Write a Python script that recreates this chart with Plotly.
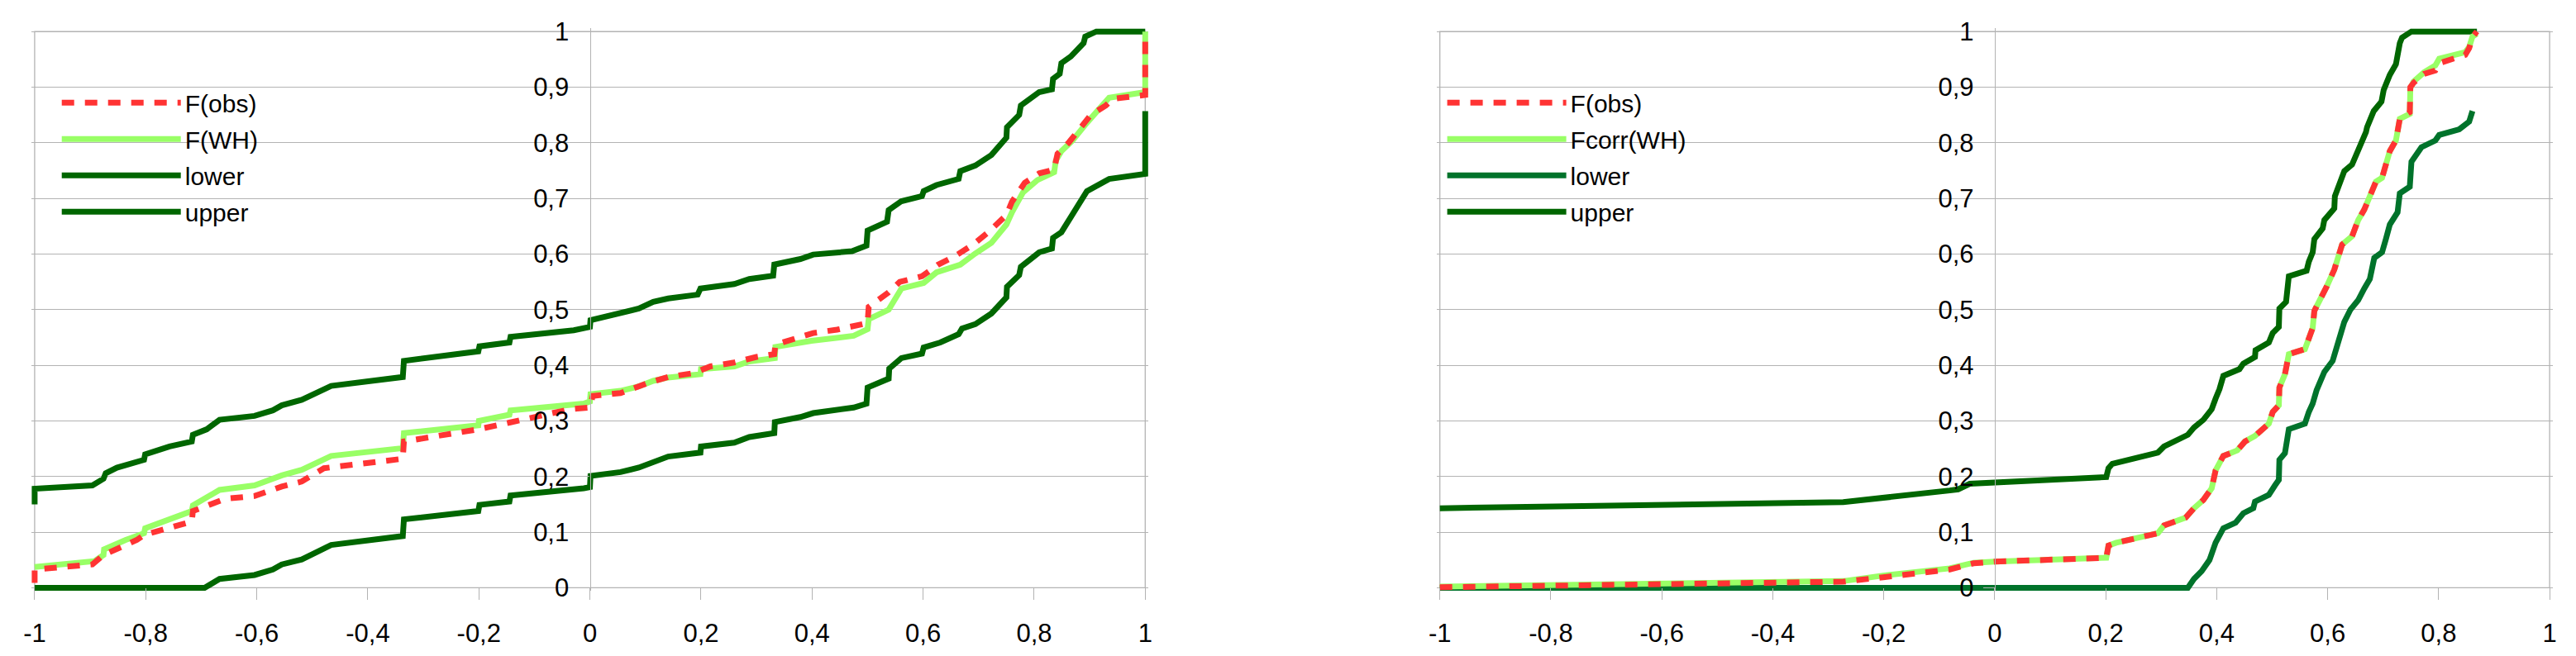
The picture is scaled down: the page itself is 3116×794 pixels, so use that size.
import plotly.graph_objects as go

# ---- left panel: F(obs), F(WH) and the band ----
l_obs_x = [-1, -1, -0.896, -0.876, -0.816, -0.803, -0.717, -0.715, -0.657, -0.604, -0.555, -0.519, -0.479,
           -0.337, -0.335, -0.201, -0.145, -0.036, 0, 0.005, 0.055, 0.101, 0.141, 0.187, 0.217, 0.26, 0.3,
           0.332, 0.334, 0.36, 0.402, 0.445, 0.485, 0.5, 0.502, 0.538, 0.558, 0.598, 0.627, 0.657, 0.69,
           0.717, 0.75, 0.76, 0.783, 0.809, 0.836, 0.842, 0.862, 0.882, 0.902, 0.929, 0.942, 1.0, 1.0]
l_obs_y = [0.009, 0.033, 0.042, 0.059, 0.086, 0.095, 0.119, 0.138, 0.160, 0.165, 0.182, 0.191, 0.215,
           0.232, 0.263, 0.285, 0.297, 0.321, 0.324, 0.345, 0.35, 0.367, 0.379, 0.386, 0.398, 0.405, 0.415,
           0.42, 0.437, 0.446, 0.458, 0.464, 0.471, 0.476, 0.505, 0.531, 0.55, 0.56, 0.581, 0.596, 0.617,
           0.639, 0.67, 0.694, 0.728, 0.745, 0.752, 0.78, 0.8, 0.824, 0.85, 0.867, 0.879, 0.886, 1.0]

l_wh_x = [-1, -0.892, -0.876, -0.875, -0.836, -0.803, -0.801, -0.757, -0.717, -0.715, -0.667, -0.604,
          -0.555, -0.519, -0.466, -0.337, -0.335, -0.201, -0.2, -0.145, -0.143, -0.011, 0, 0.001, 0.055,
          0.088, 0.114, 0.141, 0.199, 0.2, 0.26, 0.287, 0.333, 0.334, 0.399, 0.475, 0.5, 0.502, 0.538,
          0.561, 0.601, 0.624, 0.667, 0.694, 0.723, 0.75, 0.76, 0.78, 0.806, 0.836, 0.839, 0.849, 0.869,
          0.895, 0.909, 0.935, 1.0, 1.0]
l_wh_y = [0.0375, 0.048, 0.059, 0.069, 0.086, 0.098, 0.107, 0.123, 0.138, 0.148, 0.176, 0.184, 0.202,
          0.212, 0.237, 0.251, 0.278, 0.292, 0.30, 0.311, 0.319, 0.331, 0.335, 0.348, 0.354, 0.362, 0.372,
          0.378, 0.384, 0.393, 0.398, 0.407, 0.413, 0.433, 0.444, 0.453, 0.465, 0.483, 0.5, 0.538, 0.548,
          0.567, 0.581, 0.601, 0.62, 0.653, 0.675, 0.711, 0.733, 0.747, 0.768, 0.785, 0.804, 0.836, 0.852,
          0.881, 0.891, 1.0]

l_low_x = [-1, -0.694, -0.667, -0.604, -0.571, -0.555, -0.519, -0.466, -0.337, -0.335, -0.201, -0.199,
           -0.145, -0.143, -0.011, 0, 0.001, 0.055, 0.088, 0.114, 0.141, 0.199, 0.2, 0.26, 0.287, 0.332,
           0.333, 0.379, 0.402, 0.475, 0.498, 0.5, 0.538, 0.539, 0.561, 0.598, 0.601, 0.631, 0.664, 0.67,
           0.694, 0.723, 0.75, 0.751, 0.773, 0.776, 0.809, 0.832, 0.834, 0.849, 0.866, 0.892, 0.895, 0.935,
           1.0, 1.0]
l_low_y = [0, 0, 0.016, 0.023, 0.033, 0.042, 0.051, 0.077, 0.093, 0.123, 0.138, 0.149, 0.155, 0.166,
           0.179, 0.181, 0.201, 0.208, 0.216, 0.227, 0.236, 0.243, 0.254, 0.261, 0.271, 0.278, 0.298, 0.307,
           0.314, 0.324, 0.331, 0.36, 0.376, 0.394, 0.413, 0.421, 0.432, 0.441, 0.456, 0.466, 0.474, 0.493,
           0.522, 0.541, 0.562, 0.577, 0.603, 0.61, 0.629, 0.639, 0.665, 0.704, 0.713, 0.735, 0.744, 0.857]

l_up_x = [-1, -1, -0.896, -0.876, -0.872, -0.852, -0.803, -0.801, -0.757, -0.717, -0.715, -0.69, -0.667,
          -0.604, -0.571, -0.555, -0.519, -0.466, -0.337, -0.335, -0.201, -0.199, -0.145, -0.143, -0.029,
          0, 0.001, 0.055, 0.088, 0.114, 0.141, 0.194, 0.199, 0.26, 0.287, 0.33, 0.332, 0.379, 0.402,
          0.472, 0.498, 0.5, 0.535, 0.538, 0.561, 0.598, 0.601, 0.624, 0.664, 0.667, 0.694, 0.723, 0.75,
          0.751, 0.773, 0.776, 0.809, 0.832, 0.834, 0.846, 0.849, 0.866, 0.889, 0.892, 0.912, 1.0]
l_up_y = [0.150, 0.178, 0.184, 0.196, 0.206, 0.216, 0.230, 0.240, 0.254, 0.263, 0.275, 0.285, 0.302,
          0.309, 0.319, 0.328, 0.338, 0.363, 0.379, 0.408, 0.425, 0.434, 0.441, 0.451, 0.463, 0.469, 0.481,
          0.493, 0.502, 0.514, 0.520, 0.527, 0.538, 0.546, 0.555, 0.561, 0.581, 0.591, 0.599, 0.605, 0.615,
          0.642, 0.658, 0.679, 0.695, 0.704, 0.713, 0.724, 0.735, 0.749, 0.759, 0.778, 0.809, 0.828, 0.850,
          0.867, 0.891, 0.896, 0.915, 0.924, 0.943, 0.955, 0.979, 0.991, 1.0, 1.0]

# ---- right panel: F(obs), Fcorr(WH) and the band ----
r_f_x = [-1, -0.633, -0.273, -0.201, -0.081, -0.038, 0, 0.201, 0.205, 0.219, 0.294, 0.305, 0.344, 0.359,
         0.376, 0.391, 0.398, 0.412, 0.437, 0.451, 0.469, 0.494, 0.501, 0.512, 0.513, 0.523, 0.53, 0.559,
         0.566, 0.573, 0.576, 0.591, 0.598, 0.612, 0.626, 0.644, 0.655, 0.666, 0.673, 0.68, 0.687, 0.698,
         0.705, 0.712, 0.723, 0.73, 0.748, 0.749, 0.755, 0.774, 0.794, 0.801, 0.848, 0.855, 0.861, 0.869]
r_obs_y = [0.001, 0.005, 0.011, 0.019, 0.033, 0.044, 0.047, 0.054, 0.076, 0.081, 0.098, 0.112, 0.126,
           0.143, 0.158, 0.179, 0.211, 0.237, 0.247, 0.263, 0.273, 0.295, 0.316, 0.328, 0.360, 0.384, 0.420,
           0.429, 0.449, 0.467, 0.498, 0.526, 0.541, 0.572, 0.617, 0.632, 0.661, 0.680, 0.699, 0.713, 0.730,
           0.737, 0.761, 0.785, 0.804, 0.843, 0.855, 0.900, 0.908, 0.924, 0.930, 0.943, 0.958, 0.970, 0.990,
           1.0]
r_wh_y = [0.002, 0.006, 0.012, 0.022, 0.035, 0.045, 0.047, 0.054, 0.076, 0.081, 0.098, 0.112, 0.126,
          0.143, 0.158, 0.179, 0.211, 0.237, 0.247, 0.263, 0.273, 0.295, 0.316, 0.328, 0.360, 0.384, 0.420,
          0.429, 0.449, 0.467, 0.498, 0.526, 0.541, 0.572, 0.617, 0.632, 0.661, 0.680, 0.699, 0.713, 0.730,
          0.737, 0.761, 0.785, 0.804, 0.843, 0.852, 0.898, 0.910, 0.927, 0.939, 0.951, 0.963, 0.972, 0.991,
          0.996]

r_low_x = [-1, 0.348, 0.359, 0.373, 0.387, 0.398, 0.412, 0.434, 0.448, 0.466, 0.469, 0.494, 0.505, 0.512,
           0.513, 0.523, 0.53, 0.559, 0.566, 0.573, 0.58, 0.594, 0.609, 0.616, 0.626, 0.63, 0.641, 0.655,
           0.666, 0.676, 0.684, 0.698, 0.705, 0.712, 0.726, 0.73, 0.748, 0.751, 0.769, 0.794, 0.801, 0.837,
           0.855, 0.861]
r_low_y = [0, 0, 0.016, 0.030, 0.050, 0.081, 0.107, 0.117, 0.134, 0.143, 0.155, 0.167, 0.184, 0.194,
           0.230, 0.242, 0.285, 0.295, 0.316, 0.331, 0.355, 0.388, 0.408, 0.432, 0.463, 0.478, 0.500, 0.517,
           0.538, 0.555, 0.593, 0.603, 0.627, 0.653, 0.675, 0.709, 0.721, 0.766, 0.792, 0.804, 0.814, 0.824,
           0.838, 0.857]

r_up_x = [-1, -0.806, -0.633, -0.453, -0.273, -0.081, -0.066, -0.045, 0, 0.201, 0.205, 0.212, 0.294,
          0.305, 0.348, 0.359, 0.376, 0.391, 0.398, 0.405, 0.412, 0.441, 0.448, 0.469, 0.47, 0.494, 0.501,
          0.512, 0.513, 0.525, 0.53, 0.562, 0.566, 0.573, 0.576, 0.591, 0.594, 0.612, 0.613, 0.626, 0.63,
          0.644, 0.655, 0.662, 0.669, 0.671, 0.683, 0.697, 0.701, 0.712, 0.723, 0.73, 0.734, 0.751, 0.869]
r_up_y = [0.143, 0.146, 0.150, 0.151, 0.154, 0.175, 0.177, 0.187, 0.189, 0.199, 0.215, 0.223, 0.243,
          0.254, 0.275, 0.288, 0.302, 0.321, 0.340, 0.357, 0.381, 0.393, 0.403, 0.415, 0.427, 0.441, 0.458,
          0.469, 0.502, 0.514, 0.560, 0.570, 0.586, 0.603, 0.627, 0.646, 0.661, 0.682, 0.704, 0.742, 0.749,
          0.761, 0.785, 0.802, 0.819, 0.828, 0.857, 0.874, 0.895, 0.922, 0.941, 0.979, 0.989, 1.0, 1.0]

x_ticks = [-1, -0.8, -0.6, -0.4, -0.2, 0, 0.2, 0.4, 0.6, 0.8, 1]
x_tick_text = ["-1", "-0,8", "-0,6", "-0,4", "-0,2", "0", "0,2", "0,4", "0,6", "0,8", "1"]

FONT = "Liberation Sans"
GRID = "#b3b3b3"
RED = "#ff3333"
LIGHT = "#99ff66"
DARK = "#006600"
DARK2 = "#00732b"
LW = 7

fig = go.Figure()

# band first, then the two distribution functions on top (legend order via legendrank)
left = [("upper", l_up_x, l_up_y, DARK, None, 4),
        ("lower", l_low_x, l_low_y, DARK, None, 3),
        ("F(WH)", l_wh_x, l_wh_y, LIGHT, None, 2),
        ("F(obs)", l_obs_x, l_obs_y, RED, "15px,13px", 1)]
right = [("upper", r_up_x, r_up_y, DARK, None, 4),
         ("lower", r_low_x, r_low_y, DARK2, None, 3),
         ("Fcorr(WH)", r_f_x, r_wh_y, LIGHT, None, 2),
         ("F(obs)", r_f_x, r_obs_y, RED, "15px,13px", 1)]

for name, xs, ys, col, dash, rank in left:
    fig.add_trace(go.Scatter(x=xs, y=ys, mode="lines", name=name, legendrank=rank,
                             legendgroup="l_" + name,
                             line=dict(color=col, width=LW, dash=dash or "solid"),
                             xaxis="x", yaxis="y", legend="legend"))
for name, xs, ys, col, dash, rank in right:
    fig.add_trace(go.Scatter(x=xs, y=ys, mode="lines", name=name, legendrank=rank,
                             legendgroup="r_" + name,
                             line=dict(color=col, width=LW, dash=dash or "solid"),
                             xaxis="x2", yaxis="y2", legend="legend2"))

tick_font = dict(family=FONT, size=31, color="black")
x_common = dict(range=[-1.006, 1.006], tickvals=x_ticks, ticktext=x_tick_text, ticks="outside",
                ticklen=14, tickwidth=1.3, tickcolor=GRID, showgrid=False, zeroline=False,
                showline=False, tickfont=tick_font, ticklabelstandoff=13,
                anchor="free", position=0.0894)
y_common = dict(range=[-0.006, 1.006], domain=[0.0841, 0.9725], dtick=0.1, tick0=0, showgrid=True,
                gridcolor=GRID, gridwidth=1.3, zeroline=False, showline=True, linecolor=GRID,
                linewidth=1.3, ticks="outside", ticklen=14, tickwidth=1.3, tickcolor=GRID,
                tickfont=tick_font, ticklabelstandoff=5, anchor="free")
leg_common = dict(font=dict(family=FONT, size=30, color="black"), bgcolor="rgba(0,0,0,0)",
                  xanchor="left", yanchor="top", y=0.889, itemwidth=144,
                  traceorder="grouped", tracegroupgap=2)

fig.update_layout(
    width=3116, height=794,
    margin=dict(l=0, r=0, t=0, b=0),
    paper_bgcolor="white", plot_bgcolor="white",
    separators=", ",
    font=dict(family=FONT, color="black"),
    xaxis=dict(domain=[0.00899, 0.44480], **x_common),
    xaxis2=dict(domain=[0.55713, 0.99262], **x_common),
    yaxis=dict(position=0.22689, **y_common),
    yaxis2=dict(position=0.77487, **y_common),
    legend=dict(x=60 / 3116, **leg_common),
    legend2=dict(x=1744 / 3116, **leg_common),
    shapes=[dict(type="rect", xref=xr, yref=yr, x0=-1, x1=1, y0=0, y1=1, layer="below",
                 line=dict(color=GRID, width=1.3)) for xr, yr in [("x", "y"), ("x2", "y2")]],
)

# the page's default body margin would push the figure off the window edge
fig.write_html("out.html", config={"displayModeBar": False},
               post_script="document.body.style.margin = '0';")
